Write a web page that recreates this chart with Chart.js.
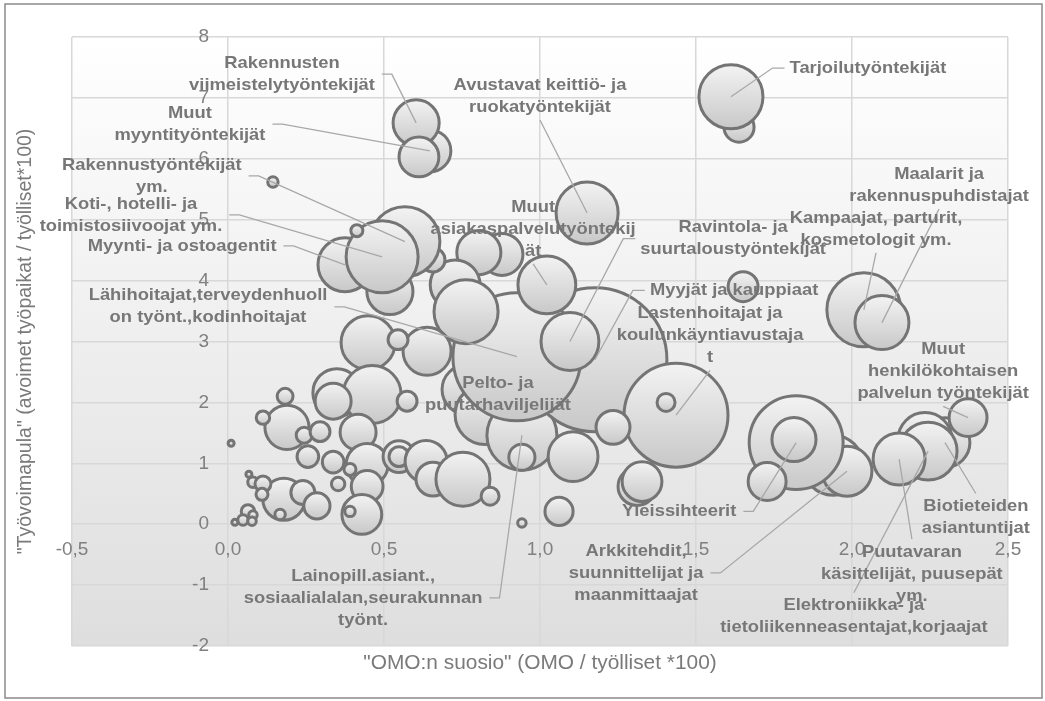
<!DOCTYPE html>
<html>
<head>
<meta charset="utf-8">
<script src="https://cdn.jsdelivr.net/npm/chart.js@4.4.1/dist/chart.umd.min.js"></script>
<style>
  html, body { margin: 0; padding: 0; background: #fff; }
  #wrap { width: 1045px; height: 701px; }
</style>
</head>
<body>
<div id="wrap"><canvas id="chart" width="1045" height="701"></canvas></div>
<script>
// occupations, drawn back to front ('' = unlabelled group)
const occupations = [
  '', 'Arkkitehdit, suunnittelijat ja maanmittaajat', 'Yleissihteerit', '', '',
  'Biotieteiden asiantuntijat', '', 'Elektroniikka- ja tietoliikenneasentajat,korjaajat',
  'Puutavaran käsittelijät, puusepät ym.', 'Muut henkilökohtaisen palvelun työntekijät',
  'Kampaajat, parturit, kosmetologit ym.', 'Maalarit ja rakennuspuhdistajat', '', 'Tarjoilutyöntekijät', '',
  '', 'Pelto- ja puutarhaviljelijät', 'Lainopill.asiant., sosiaalialalan,seurakunnan työnt.',
  'Myyjät ja kauppiaat', 'Lähihoitajat,terveydenhuollon työnt.,kodinhoitajat',
  'Lastenhoitajat ja koulunkäyntiavustajat', '', '', 'Ravintola- ja suurtaloustyöntekijät',
  'Muut asiakaspalvelutyöntekijät', 'Avustavat keittiö- ja ruokatyöntekijät', '', '', '', '', '',
  'Rakennustyöntekijät ym.', 'Myynti- ja ostoagentit', '', 'Koti-, hotelli- ja toimistosiivoojat ym.', '', '',
  'Muut myyntityöntekijät', 'Rakennusten viimeistelytyöntekijät', '',
  '', '', '', '', '', '', '', '', '', '', '', '', '', '', '', '', '', '', '', '', '', '', '', '', '', '', '',
  '', '', '', '', '', '', '', '', '', '', '', '', '', '', '', '', '', '', ''
];
// "OMO:n suosio" (OMO / työlliset *100)
const omoPopularity = [
  1.939, 1.984, 1.821, 1.814, 1.728,
  2.298, 2.234, 2.244,
  2.151, 2.372,
  2.038, 2.096, 1.638, 1.612, 1.651,
  0.766, 0.824, 0.942,
  1.176, 0.926,
  1.436, 1.404, 1.234, 1.096,
  1.022, 1.151, 0.878, 0.804, 0.728, 0.763, 0.657,
  0.567, 0.375, 0.519, 0.494, 0.413, 0.144,
  0.647, 0.603, 0.612,
  0.449, 0.638, 0.545, 0.349, 0.462, 0.337, 0.183, 0.189, 0.112, 0.244, 0.295, 0.256, 0.337, 0.417, 0.446,
  0.391, 0.353, 0.446, 0.429, 0.391, 0.548, 0.548, 0.574, 0.635, 0.657, 0.753, 0.840, 0.942, 1.106, 1.311,
  1.327, 1.061, 0.942, 0.179, 0.240, 0.285, 0.010, 0.067, 0.080, 0.112, 0.109, 0.167, 0.064, 0.080, 0.048,
  0.022, 0.077
];
// "Työvoimapula" (avoimet työpaikat / työlliset*100)
const labourShortage = [
  0.97, 0.87, 1.34, 1.39, 0.70,
  1.34, 1.39, 1.20,
  1.07, 1.75,
  3.52, 3.31, 6.52, 7.02, 3.90,
  2.21, 1.80, 1.46,
  2.70, 2.75,
  1.79, 2.00, 1.59, 3.00,
  3.93, 5.11, 4.43, 4.46, 3.93, 3.49, 4.34,
  4.64, 4.26, 3.82, 4.39, 4.82, 5.62,
  6.13, 6.59, 6.03,
  2.98, 2.84, 3.03, 2.16, 2.13, 2.02, 2.10, 1.59, 1.75, 1.46, 1.52, 1.11, 1.02, 1.51, 0.98,
  0.90, 0.66, 0.62, 0.16, 0.21, 1.11, 1.11, 2.02, 1.03, 0.74, 0.74, 0.46, 1.10, 1.11, 0.62,
  0.70, 0.21, 0.02, 0.41, 0.52, 0.30, 1.33, 0.82, 0.69, 0.66, 0.49, 0.16, 0.21, 0.15, 0.07,
  0.03, 0.05
];
// bubble size (employed, relative units; area-proportional)
const bubbleSize = [
  100, 69, 245, 54, 40,
  69, 81, 93,
  75, 40,
  152, 81, 25, 114, 25,
  69, 100, 136,
  576, 455,
  300, 9, 32, 93,
  93, 107, 49, 54, 69, 114, 16,
  136, 81, 59, 144, 4, 3,
  49, 59, 44,
  81, 64, 11, 64, 93, 36, 7, 54, 5, 7, 11, 13, 13, 36, 49,
  4, 5, 28, 44, 3, 28, 11, 11, 49, 32, 81, 9, 19, 69, 40,
  44, 22, 2, 49, 16, 19, 1, 1, 3, 7, 4, 3, 5, 2, 3,
  1, 2
];
const xRange = [-0.5, 2.5, 0.5];
const yRange = [-2, 8, 1];
const xTitle = '"OMO:n suosio" (OMO / työlliset *100)';
const yTitle = '"Työvoimapula" (avoimet työpaikat / työlliset*100)';

// data label placement (label centre in data units, leader side)
const labelLayout = [
  { name: 'Tarjoilutyöntekijät', lines: ['Tarjoilutyöntekijät'], at: [2.051, 7.49], leader: 'left' },
  { name: 'Rakennusten viimeistelytyöntekijät', lines: ['Rakennusten', 'viimeistelytyöntekijät'], at: [0.173, 7.39], leader: 'right' },
  { name: 'Muut myyntityöntekijät', lines: ['Muut', 'myyntityöntekijät'], at: [-0.122, 6.57], leader: 'right' },
  { name: 'Rakennustyöntekijät ym.', lines: ['Rakennustyöntekijät', 'ym.'], at: [-0.244, 5.72], leader: 'right' },
  { name: 'Koti-, hotelli- ja toimistosiivoojat ym.', lines: ['Koti-, hotelli- ja', 'toimistosiivoojat ym.'], at: [-0.311, 5.08], leader: 'right' },
  { name: 'Myynti- ja ostoagentit', lines: ['Myynti- ja ostoagentit'], at: [-0.147, 4.57], leader: 'right' },
  { name: 'Lähihoitajat,terveydenhuollon työnt.,kodinhoitajat', lines: ['Lähihoitajat,terveydenhuoll', 'on työnt.,kodinhoitajat'], at: [-0.064, 3.57], leader: 'right' },
  { name: 'Avustavat keittiö- ja ruokatyöntekijät', lines: ['Avustavat keittiö- ja', 'ruokatyöntekijät'], at: [1.0, 7.03], leader: 'bottom' },
  { name: 'Muut asiakaspalvelutyöntekijät', lines: ['Muut', 'asiakaspalvelutyöntekij', 'ät'], at: [0.978, 4.85], leader: 'bottom' },
  { name: 'Ravintola- ja suurtaloustyöntekijät', lines: ['Ravintola- ja', 'suurtaloustyöntekijät'], at: [1.619, 4.69], leader: 'left' },
  { name: 'Myyjät ja kauppiaat', lines: ['Myyjät ja kauppiaat'], at: [1.622, 3.84], leader: 'left' },
  { name: 'Lastenhoitajat ja koulunkäyntiavustajat', lines: ['Lastenhoitajat ja', 'koulunkäyntiavustaja', 't'], at: [1.545, 3.10], leader: 'bottom' },
  { name: 'Maalarit ja rakennuspuhdistajat', lines: ['Maalarit ja', 'rakennuspuhdistajat'], at: [2.279, 5.57], leader: 'bottom' },
  { name: 'Kampaajat, parturit, kosmetologit ym.', lines: ['Kampaajat, parturit,', 'kosmetologit ym.'], at: [2.077, 4.85], leader: 'bottom' },
  { name: 'Muut henkilökohtaisen palvelun työntekijät', lines: ['Muut', 'henkilökohtaisen', 'palvelun työntekijät'], at: [2.292, 2.51], leader: 'bottom' },
  { name: 'Pelto- ja puutarhaviljelijät', lines: ['Pelto- ja', 'puutarhaviljelijät'], at: [0.865, 2.13], leader: 'none' },
  { name: 'Yleissihteerit', lines: ['Yleissihteerit'], at: [1.446, 0.21], leader: 'right' },
  { name: 'Arkkitehdit, suunnittelijat ja maanmittaajat', lines: ['Arkkitehdit,', 'suunnittelijat ja', 'maanmittaajat'], at: [1.308, -0.80], leader: 'right' },
  { name: 'Lainopill.asiant., sosiaalialalan,seurakunnan työnt.', lines: ['Lainopill.asiant.,', 'sosiaalialalan,seurakunnan', 'työnt.'], at: [0.433, -1.21], leader: 'right' },
  { name: 'Puutavaran käsittelijät, puusepät ym.', lines: ['Puutavaran', 'käsittelijät, puusepät', 'ym.'], at: [2.192, -0.82], leader: 'top' },
  { name: 'Elektroniikka- ja tietoliikenneasentajat,korjaajat', lines: ['Elektroniikka- ja', 'tietoliikenneasentajat,korjaajat'], at: [2.006, -1.52], leader: 'top' },
  { name: 'Biotieteiden asiantuntijat', lines: ['Biotieteiden', 'asiantuntijat'], at: [2.397, 0.11], leader: 'top' }
];

const points = omoPopularity.map((x, i) => ({
  x: x,
  y: labourShortage[i],
  r: 3 * Math.sqrt(bubbleSize[i]),
  name: occupations[i]
}));

const LABEL_FONT = 'bold 17px "Liberation Sans", Arial, sans-serif';
const LABEL_STRETCH = 1.08;
const LINE_H = 22;

const decor = {
  id: 'decor',
  beforeDraw(chart) {
    const { ctx, chartArea: a } = chart;
    ctx.save();
    // outer frame
    ctx.strokeStyle = '#8a8a8a';
    ctx.lineWidth = 1.5;
    ctx.strokeRect(5, 4, 1037, 694);
    // plot area gradient
    const g = ctx.createLinearGradient(0, a.top, 0, a.bottom);
    g.addColorStop(0, '#ffffff');
    g.addColorStop(1, '#dedede');
    ctx.fillStyle = g;
    ctx.fillRect(a.left, a.top, a.right - a.left, a.bottom - a.top);
    ctx.restore();
  },
  afterDatasetsDraw(chart) {
    const { ctx, scales: { x, y } } = chart;
    ctx.save();
    ctx.font = LABEL_FONT;
    const blocks = labelLayout.map(l => {
      const idx = occupations.indexOf(l.name);
      const cx = x.getPixelForValue(l.at[0]);
      const cy = y.getPixelForValue(l.at[1]);
      const w = Math.max(...l.lines.map(t => ctx.measureText(t).width)) * LABEL_STRETCH;
      const h = l.lines.length * LINE_H;
      return { l, idx, cx, cy, w, h };
    });
    // leader lines
    ctx.strokeStyle = '#a8a8a8';
    ctx.lineWidth = 1.3;
    blocks.forEach(b => {
      if (b.l.leader === 'none' || b.idx < 0) return;
      const px = x.getPixelForValue(omoPopularity[b.idx]);
      const py = y.getPixelForValue(labourShortage[b.idx]);
      ctx.beginPath();
      if (b.l.leader === 'right') {
        const sx = b.cx + b.w / 2 + 7;
        ctx.moveTo(sx, b.cy); ctx.lineTo(sx + 10, b.cy);
      } else if (b.l.leader === 'left') {
        const sx = b.cx - b.w / 2 - 5;
        ctx.moveTo(sx, b.cy); ctx.lineTo(sx - 12, b.cy);
      } else if (b.l.leader === 'bottom') {
        ctx.moveTo(b.cx, b.cy + b.h / 2 + 2);
      } else {
        ctx.moveTo(b.cx, b.cy - b.h / 2 - 2);
      }
      ctx.lineTo(px, py);
      ctx.stroke();
    });
    // label text
    ctx.fillStyle = '#777777';
    ctx.textAlign = 'center';
    ctx.textBaseline = 'middle';
    blocks.forEach(b => {
      b.l.lines.forEach((t, k) => {
        const ty = b.cy - b.h / 2 + LINE_H * (k + 0.5);
        ctx.save();
        ctx.translate(b.cx, ty);
        ctx.scale(LABEL_STRETCH, 1);
        ctx.fillText(t, 0, 0);
        ctx.restore();
      });
    });
    ctx.restore();
  },
  afterDraw(chart) {
    const { ctx, chartArea: a } = chart;
    ctx.save();
    ctx.fillStyle = '#7a7a7a';
    ctx.font = '19.5px "Liberation Sans", Arial, sans-serif';
    ctx.textAlign = 'center';
    ctx.textBaseline = 'middle';
    ctx.save();
    ctx.translate((a.left + a.right) / 2, 664);
    ctx.scale(1.07, 1);
    ctx.fillText(xTitle, 0, 0);
    ctx.restore();
    ctx.translate(26, (a.top + a.bottom) / 2);
    ctx.rotate(-Math.PI / 2);
    ctx.fillText(yTitle, 0, 0);
    ctx.restore();
  }
};

const gridOpts = { color: '#d8d8d8', lineWidth: 1.5, drawTicks: false };
const tickFont = { family: '"Liberation Sans", Arial, sans-serif', size: 19 };
// axes sit inside the plot, so they must not reserve any padding
const noPadding = s => { s.paddingTop = 0; s.paddingBottom = 0; s.paddingLeft = 0; s.paddingRight = 0; };

new Chart(document.getElementById('chart'), {
  type: 'bubble',
  data: {
    datasets: [{
      label: 'Ammattiryhmät',
      data: points,
      borderColor: '#747474',
      borderWidth: 3,
      backgroundColor: (c) => {
        const ch = c.chart;
        if (c.type !== 'data' || !ch.chartArea || !ch.scales.y) return '#dedede';
        const cy = ch.scales.y.getPixelForValue(c.raw.y);
        const r = c.raw.r;
        const g = ch.ctx.createLinearGradient(0, cy - r, 0, cy + r);
        g.addColorStop(0, '#f3f3f3');
        g.addColorStop(1, '#c8c8c8');
        return g;
      }
    }]
  },
  options: {
    responsive: false,
    animation: false,
    events: [],
    devicePixelRatio: 1,
    layout: { autoPadding: false, padding: { left: 72, right: 37, top: 37, bottom: 55 } },
    plugins: { legend: { display: false }, tooltip: { enabled: false } },
    scales: {
      x: {
        type: 'linear',
        position: { y: 0 },
        min: xRange[0], max: xRange[1],
        grid: gridOpts,
        border: { display: false },
        afterFit: noPadding,
        ticks: {
          stepSize: xRange[2],
          color: '#808080',
          font: tickFont,
          padding: 14,
          maxRotation: 0,
          callback: v => v.toFixed(1).replace('.', ',')
        }
      },
      y: {
        type: 'linear',
        position: { x: 0 },
        min: yRange[0], max: yRange[1],
        grid: gridOpts,
        border: { display: false },
        afterFit: noPadding,
        ticks: {
          stepSize: yRange[2],
          color: '#808080',
          font: tickFont,
          // labels are right-aligned on the x = 0 line; keep a gap
          callback: v => String(v) + '\u2003'
        }
      }
    }
  },
  plugins: [decor]
});
</script>
</body>
</html>
